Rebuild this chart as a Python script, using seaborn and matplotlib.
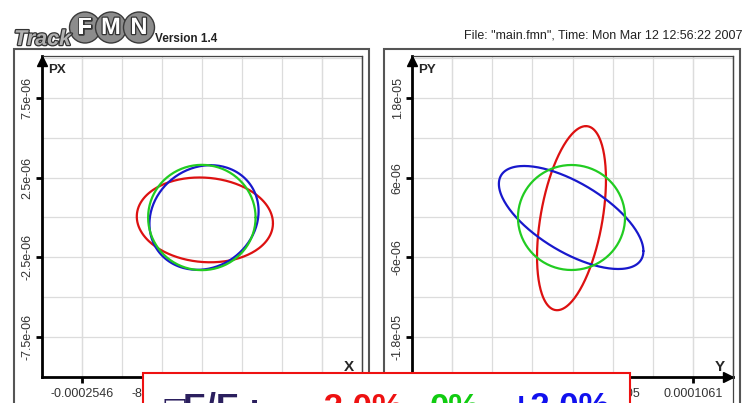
import numpy as np
import pandas as pd
import matplotlib
matplotlib.use("Agg")
import matplotlib.pyplot as plt
import seaborn as sns
from matplotlib.patches import Rectangle, Circle
from matplotlib.lines import Line2D
from matplotlib.transforms import IdentityTransform
import matplotlib.patheffects as pe

W, H = 747, 403

# ---------------- data ----------------
energy_labels = ["-2.0%", "0%", "+2.0%"]
curve_colors = ["#dd1111", "#22cc22", "#1818cc"]
draw_order = ["-2.0%", "+2.0%", "0%"]

# X-PX phase ellipses: centre, and cos/sin coefficients of x and of px
xpx_cx = [6.4e-06, 0.0, 4.6e-06]
xpx_cy = [-1.5e-07, 0.0, 0.0]
xpx_a1 = [1.443e-04, 1.139e-04, 1.41e-05]
xpx_a2 = [0.0, 0.0, 1.148e-04]
xpx_b1 = [-2.1e-07, 0.0, 3.28e-06]
xpx_b2 = [2.65e-06, 3.30e-06, 0.0]

# Y-PY phase ellipses
ypy_cx = [-8.8e-07, -8.8e-07, -1.2e-06]
ypy_cy = [-1.0e-07, 0.0, 0.0]
ypy_a1 = [1.27e-05, 4.72e-05, 6.37e-05]
ypy_a2 = [2.76e-05, 0.0, 0.0]
ypy_b1 = [1.385e-05, 0.0, -5.05e-06]
ypy_b2 = [0.0, 7.9e-06, 5.88e-06]

x_ticks = [-0.0002546, -8.487e-05, 8.487e-05, 0.0002546]
x_ticklabels = ["-0.0002546", "-8.487e-05", "8.487e-05", "0.0002546"]
px_ticks = [-7.5e-06, -2.5e-06, 2.5e-06, 7.5e-06]
px_ticklabels = ["-7.5e-06", "-2.5e-06", "2.5e-06", "7.5e-06"]
y_ticks = [-0.0001061, -3.537e-05, 3.537e-05, 0.0001061]
y_ticklabels = ["-0.0001061", "-3.537e-05", "3.537e-05", "0.0001061"]
py_ticks = [-1.8e-05, -6e-06, 6e-06, 1.8e-05]
py_ticklabels = ["-1.8e-05", "-6e-06", "6e-06", "1.8e-05"]

header_text = 'File: "main.fmn", Time: Mon Mar 12 12:56:22 2007'
# --------------------------------------

sns.set_theme(style="white")
plt.rcParams["font.family"] = ["Liberation Sans", "DejaVu Sans"]

fig = plt.figure(figsize=(W / 100, H / 100), dpi=100)
fig.patch.set_facecolor("white")


def fx(x):
    return x / W


def fy(y):
    return 1 - y / H


def ellipse_frame(cx, cy, a1, a2, b1, b2):
    t = np.linspace(0, 2 * np.pi, 241)
    rows = []
    for i, lab in enumerate(energy_labels):
        xs = cx[i] + a1[i] * np.cos(t) + a2[i] * np.sin(t)
        ys = cy[i] + b1[i] * np.cos(t) + b2[i] * np.sin(t)
        rows.append(pd.DataFrame({"u": xs, "v": ys, "dE": lab, "k": np.arange(len(t))}))
    return pd.concat(rows, ignore_index=True)


palette = dict(zip(energy_labels, curve_colors))


def panel(left_px, right_px, cx, cy, a1, a2, b1, b2, xt, xtl, yt, ytl, xlab, ylab):
    top_px, bot_px = 56, 377
    ax = fig.add_axes([fx(left_px), fy(bot_px), (right_px - left_px) / W, (bot_px - top_px) / H])
    df = ellipse_frame(cx, cy, a1, a2, b1, b2)
    sns.lineplot(data=df, x="u", y="v", hue="dE", hue_order=draw_order, palette=palette,
                 sort=False, estimator=None, legend=False, linewidth=1.6, ax=ax)
    sx = (xt[2] - xt[1]) / 2
    sy = (yt[2] - yt[1]) / 2
    ax.set_xlim(-4.0 * sx, 4.0 * sx)
    ax.set_ylim(-3.975 * sy, 4.05 * sy)
    ax.set_xticks(xt)
    ax.set_xticklabels(xtl)
    ax.set_yticks(yt)
    ax.set_yticklabels(ytl, rotation=90, va="center")
    ax.set_xticks(np.arange(-4, 5) * sx, minor=True)
    ax.set_yticks(np.arange(-4, 5) * sy, minor=True)
    ax.grid(which="both", color="#dcdcdc", linewidth=0.9)
    ax.set_axisbelow(True)
    ax.tick_params(which="major", length=4, width=2, color="black", labelsize=9,
                   labelcolor="#333333", direction="out", bottom=True, left=True)
    ax.tick_params(axis="x", which="major", pad=4)
    ax.tick_params(axis="y", which="major", pad=2)
    ax.tick_params(which="minor", length=0)
    ax.set_xlabel("")
    ax.set_ylabel("")
    for s in ["left", "bottom"]:
        ax.spines[s].set_color("black")
        ax.spines[s].set_linewidth(2.0)
    for s in ["top", "right"]:
        ax.spines[s].set_color("#444444")
        ax.spines[s].set_linewidth(0.9)
    ax.plot([0], [0.985], marker="^", color="black", markersize=7, transform=ax.transAxes,
            clip_on=False, zorder=10)
    ax.plot([0.985], [0], marker=">", color="black", markersize=7, transform=ax.transAxes,
            clip_on=False, zorder=10)
    fig.text(fx(left_px + 6), fy(70), ylab, fontsize=9.5, fontweight="bold", va="center", ha="left")
    fig.text(fx(right_px - 13), fy(367), xlab, fontsize=11, fontweight="bold", va="center", ha="center")
    # extension of inner frame on right
    fig.add_artist(Line2D([fx(right_px), fx(right_px)], [fy(56), fy(410)], color="#444444",
                          linewidth=0.9, transform=fig.transFigure))
    # outer frame
    fig.add_artist(Rectangle((fx(left_px - 28), fy(412)), (right_px + 7 - (left_px - 28)) / W,
                             (412 - 49) / H, transform=fig.transFigure, facecolor="none",
                             edgecolor="#555555", linewidth=1.5))
    return ax


panel(41.7, 362, xpx_cx, xpx_cy, xpx_a1, xpx_a2, xpx_b1, xpx_b2,
      x_ticks, x_ticklabels, px_ticks, px_ticklabels, "X", "PX")
panel(412, 733, ypy_cx, ypy_cy, ypy_a1, ypy_a2, ypy_b1, ypy_b2,
      y_ticks, y_ticklabels, py_ticks, py_ticklabels, "Y", "PY")

# header
fig.text(fx(742), fy(39), header_text, fontsize=9, color="#222222", ha="right", va="baseline")

# logo
idt = IdentityTransform()
for cxp, letter in [(85, "F"), (111, "M"), (139, "N")]:
    fig.add_artist(Circle((cxp, H - 27.5), 15.5, transform=idt, facecolor="#8c8c8c",
                          edgecolor="#3a3a3a", linewidth=1.0))
    fig.text(fx(cxp), fy(27.5), letter, fontsize=17, fontweight="bold", color="white",
             ha="center", va="center",
             path_effects=[pe.withStroke(linewidth=1.8, foreground="#333333")])
fig.text(fx(14), fy(45), "Track", fontsize=15.5, fontweight="bold", style="italic",
         color="#b0b0b0", ha="left", va="baseline", zorder=4,
         path_effects=[pe.withStroke(linewidth=1.8, foreground="#333333")])
fig.text(fx(155), fy(42), "Version 1.4", fontsize=8.5, fontweight="bold", color="#222222",
         ha="left", va="baseline")

# annotation box
fig.add_artist(Rectangle((fx(143), fy(412)), (630 - 143) / W, (412 - 373) / H,
                         transform=fig.transFigure, facecolor="white", edgecolor="#ee1111",
                         linewidth=1.5, zorder=5))
fig.text(fx(162), fy(416), "\u25a1", fontsize=20, color="#2b1f5e", ha="left", va="baseline",
         zorder=6, family=["DejaVu Sans"])
fig.text(fx(183), fy(417), "E/E :", fontsize=25, fontweight="bold", color="#2b1f5e",
         ha="left", va="baseline", zorder=6)
fig.text(fx(313), fy(417), "-2.0%,", fontsize=25, fontweight="bold", color="#ee1111",
         ha="left", va="baseline", zorder=6)
fig.text(fx(430), fy(417), "0%,", fontsize=25, fontweight="bold", color="#11cc11",
         ha="left", va="baseline", zorder=6)
fig.text(fx(511), fy(417), "+2.0%", fontsize=25, fontweight="bold", color="#1111ee",
         ha="left", va="baseline", zorder=6)

fig.savefig("out.png", dpi=100)
